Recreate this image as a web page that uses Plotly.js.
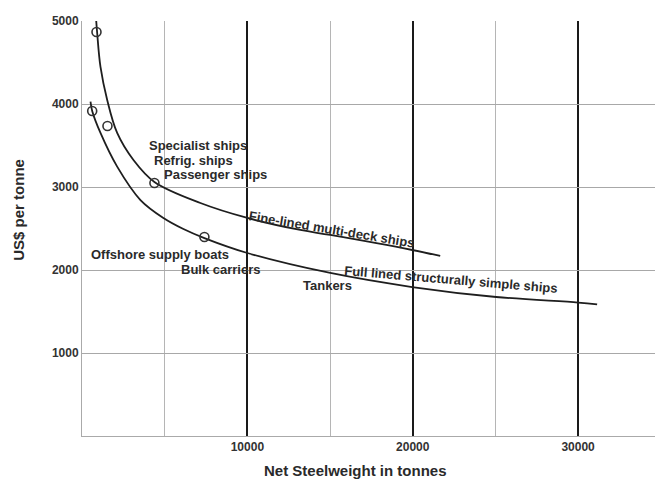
<!DOCTYPE html>
<html>
<head>
<meta charset="utf-8">
<script src="https://cdn.plot.ly/plotly-3.0.1.min.js"></script>
<style>
html,body{margin:0;padding:0;background:#fff;}
#chart{width:655px;height:481px;}
</style>
</head>
<body>
<div id="chart"></div>
<script>
// Fine-lined multi-deck ships curve
var fineX = [860, 918, 1118, 1523, 2127, 3112, 4380, 7160, 10000, 13200, 15015, 19970, 21662];
var fineY = [5000, 4855, 4446, 4048, 3651, 3325, 3060, 2807, 2627, 2482, 2422, 2241, 2169];
// Full lined structurally simple ships curve
var fullX = [514, 616, 1118, 2127, 3535, 4924, 6133, 7402, 10000, 15015, 19970, 25045, 30000, 31150];
var fullY = [4028, 3916, 3651, 3245, 2843, 2627, 2494, 2385, 2205, 1964, 1795, 1675, 1608, 1585];
// Data points (open circles)
var ptX = [876, 1540, 4380, 616, 7402];
var ptY = [4867, 3735, 3048, 3916, 2398];
// Labels
var labelText = ["Specialist ships", "Refrig. ships", "Passenger ships", "Fine-lined multi-deck ships",
                 "Offshore supply boats", "Bulk carriers", "Tankers", "Full lined structurally simple ships"];
var labelX = [7040, 6767, 8066, 15136, 4743, 8429, 14864, 22326];
var labelY = [3506, 3325, 3145, 2494, 2181, 2012, 1819, 1880];
var labelAngle = [0, 0, 0, 9.5, 0, 0, 0, 4.8];
var xTicks = [10000, 20000, 30000];
var xMinorTicks = [5000, 15000, 25000];
var yTicks = [1000, 2000, 3000, 4000, 5000];

var lineStyle = {color: '#1e1e1e', width: 1.8, shape: 'spline', smoothing: 1.0};
var traces = [
  {x: fineX, y: fineY, mode: 'lines', line: lineStyle, hoverinfo: 'skip'},
  {x: fullX, y: fullY, mode: 'lines', line: lineStyle, hoverinfo: 'skip'},
  {x: ptX, y: ptY, mode: 'markers', marker: {symbol: 'circle-open', size: 9, color: '#333', line: {width: 1.6, color: '#333'}}, hoverinfo: 'skip'}
];

var font = {family: '"Liberation Sans", Arial, sans-serif', color: '#2a2a2a'};
var annotations = labelText.map(function (t, i) {
  return {x: labelX[i], y: labelY[i], xref: 'x', yref: 'y', text: t, showarrow: false,
    xanchor: 'center', yanchor: 'middle', textangle: labelAngle[i],
    font: {family: font.family, color: font.color, size: 13, weight: 'bold'}};
});
annotations.push({x: -0.11, y: 0.545, xref: 'paper', yref: 'paper', text: 'US$ per tonne', textangle: -90,
  showarrow: false, xanchor: 'center', yanchor: 'middle',
  font: {family: font.family, color: '#2a2a2a', size: 15, weight: 'bold'}});
annotations.push({x: 0.478, y: -0.082, xref: 'paper', yref: 'paper', text: 'Net Steelweight in tonnes',
  showarrow: false, xanchor: 'center', yanchor: 'middle',
  font: {family: font.family, color: '#2a2a2a', size: 15, weight: 'bold'}});

var layout = {
  width: 655, height: 481,
  margin: {l: 82, r: 0, t: 21, b: 45},
  paper_bgcolor: '#fff', plot_bgcolor: '#fff',
  showlegend: false,
  xaxis: {range: [0, 34650], tickvals: xTicks, ticktext: xTicks.map(String), ticks: '',
    showgrid: true, gridcolor: '#1a1a1a', gridwidth: 2, zeroline: false,
    showline: true, linecolor: '#aaa', linewidth: 1,
    minor: {tickvals: xMinorTicks, showgrid: true, gridcolor: '#b5b5b5', gridwidth: 1, ticks: ''},
    tickfont: {family: font.family, color: '#333', size: 12, weight: 'bold'}, fixedrange: true},
  yaxis: {range: [0, 5000], tickvals: yTicks, ticktext: yTicks.map(String), ticks: '',
    showgrid: true, gridcolor: '#a8a8a8', gridwidth: 1, zeroline: false,
    showline: true, linecolor: '#aaa', linewidth: 1,
    tickfont: {family: font.family, color: '#333', size: 12, weight: 'bold'}, fixedrange: true},
  annotations: annotations
};
Plotly.newPlot('chart', traces, layout, {displayModeBar: false, staticPlot: true});
</script>
</body>
</html>
